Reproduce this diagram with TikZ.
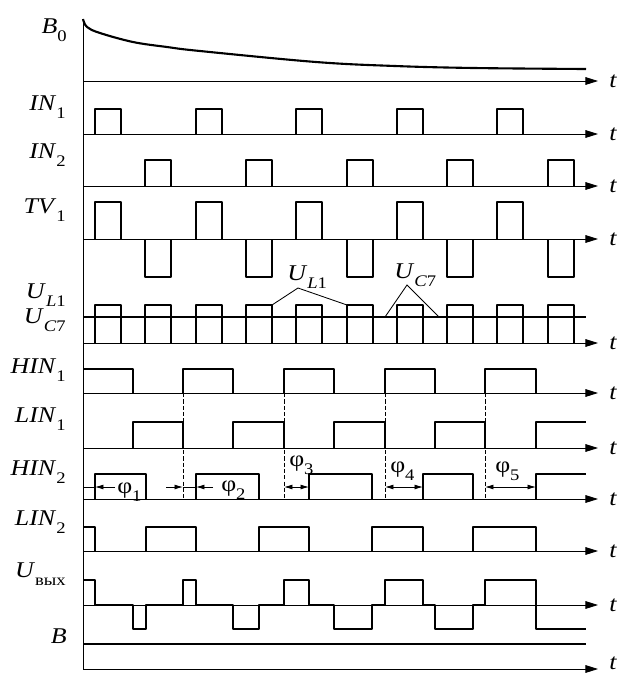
\documentclass[tikz,border=0pt]{standalone}
\usepackage{fontspec}
\setmainfont{Liberation Serif}[FakeStretch=1.15]
\usetikzlibrary{arrows.meta}
\tikzset{axisline/.style={line width=0.6pt, -{Triangle[length=9pt, width=5.5pt]}}}
\tikzset{signal/.style={line width=1.5pt, line join=round}}
\tikzset{level/.style={signal, line width=2pt}}
\tikzset{siglabel/.style={anchor=base east, inner sep=0pt, font=\fontsize{16}{18}\selectfont}}
\tikzset{tlabel/.style={anchor=base west, inner sep=0pt, font=\fontsize{16}{18}\selectfont\itshape}}
\tikzset{philabel/.style={anchor=base west, inner sep=0pt, font=\fontsize{16}{18}\selectfont}}
\tikzset{guide/.style={line width=0.5pt, dash pattern=on 3pt off 1.5pt}}
\tikzset{pointer/.style={line width=0.6pt}}
\tikzstyle{dimarrow} = [line width=0.6pt, -{Latex[length=6pt, width=3.5pt]}]
\tikzstyle{dimboth} = [line width=0.6pt, {Latex[length=6pt, width=3.5pt]}-{Latex[length=6pt, width=3.5pt]}]
\newcommand{\lsub}[1]{\raisebox{-6pt}{\fontsize{11.5}{13}\selectfont #1}}

\begin{document}
\begin{tikzpicture}[x=0.025cm, y=-0.025cm]
	\useasboundingbox (0,0) rectangle (620,673);
	% Axes
	\coordinate (top) at (83,19);
	\coordinate (bottom) at (83,669);
	\draw[line width=0.6pt] (top) -- (bottom);
	\foreach \name/\y/\ty in {b0/81/87, in1/134/140, in2/186/192, tv1/239/245, ul1/343/349, hin1/393/399, lin1/448/454, hin2/499/505, lin2/551/557, uout/605/611, b/669/669}{
		\coordinate (\name-o) at (83,\y);
		\coordinate (\name-e) at (598,\y);
		\draw[axisline] (\name-o) -- (\name-e);
		\node[tlabel] (t-\name) at (609,\ty) {t};
	}

	% Nodes
	\node[siglabel] (b0-lbl) at (67,33) {\textit{B}\lsub{0}};
	\node[siglabel] (in1-lbl) at (66,110) {\textit{IN}\lsub{1}};
	\node[siglabel] (in2-lbl) at (66,158) {\textit{IN}\lsub{2}};
	\node[siglabel] (tv1-lbl) at (66,213) {\textit{TV}\lsub{1}};
	\node[siglabel] (ul1-lbl) at (66,298) {\textit{U}\lsub{\textit{L}1}};
	\node[siglabel] (uc7-lbl) at (66,323) {\textit{U}\lsub{\textit{C}7}};
	\node[siglabel] (hin1-lbl) at (66,373) {\textit{HIN}\lsub{1}};
	\node[siglabel] (lin1-lbl) at (66,422) {\textit{LIN}\lsub{1}};
	\node[siglabel] (hin2-lbl) at (66,475) {\textit{HIN}\lsub{2}};
	\node[siglabel] (lin2-lbl) at (66,525) {\textit{LIN}\lsub{2}};
	\node[siglabel] (uout-lbl) at (66,577) {\textit{U}\lsub{вых}};
	\node[siglabel] (b-lbl) at (67,643) {\textit{B}};

	% Signals
	\draw[signal] plot[smooth, tension=0.6] coordinates {(top) (87,27) (100,33) (133,42) (167,47) (200,51) (316,62) (395,66) (474,68) (586,69)};
	\foreach \x in {95,196,296,397,497}{
		\draw[signal] (\x,134) |- (\x+26,109) -- (\x+26,134);
		\draw[signal] (\x,239) |- (\x+26,202) -- (\x+26,239);
		\draw[signal] (\x,343) |- (\x+26,305) -- (\x+26,343);
	}
	\foreach \x in {145,246,347,447,548}{
		\draw[signal] (\x,186) |- (\x+26,160) -- (\x+26,186);
		\draw[signal] (\x,239) |- (\x+26,277) -- (\x+26,239);
		\draw[signal] (\x,343) |- (\x+26,305) -- (\x+26,343);
	}
	\draw[level] (83,317) -- (586,317);

	\draw[signal] (83,369) -| (133,393);
	\foreach \r/\f in {183/233, 284/334, 385/435, 485/536}
		\draw[signal] (\r,393) |- (\f,369) -- (\f,393);
	\foreach \r/\f in {133/183, 233/284, 334/385, 435/485}
		\draw[signal] (\r,448) |- (\f,422) -- (\f,448);
	\draw[signal] (536,448) |- (586,422);
	\foreach \r/\f in {95/146, 196/259, 309/372, 423/473}
		\draw[signal] (\r,499) |- (\f,474) -- (\f,499);
	\draw[signal] (536,499) |- (586,474);
	\draw[signal] (83,527) -| (95,551);
	\foreach \r/\f in {146/196, 259/309, 372/423, 473/536}
		\draw[signal] (\r,551) |- (\f,527) -- (\f,551);
	\draw[signal] (83,580) -| (95,605) -| (133,629) -| (146,605) -| (183,580) -| (196,605) -| (233,629) -| (259,605) -| (284,580) -| (309,605) -| (334,629) -| (372,605) -| (385,580) -| (423,605) -| (435,629) -| (473,605) -| (485,580) -| (536,629) -- (586,629);
	\draw[level] (83,644) -- (586,644);

	% Phase marks
	\foreach \x in {183,284,385,485}
		\draw[guide] (\x,393) -- (\x,499);
	\draw[pointer] (83,487) -- (95,487);
	\draw[dimarrow] (115,487) -- (95,487);
	\draw[dimarrow] (166,487) -- (183,487);
	\draw[pointer] (183,487) -- (196,487);
	\draw[dimarrow] (213,487) -- (196,487);
	\draw[dimboth] (284,487) -- (309,487);
	\draw[dimboth] (385,487) -- (423,487);
	\draw[dimboth] (485,487) -- (536,487);
	\node[philabel] (phi1) at (117,493) {φ\lsub{1}};
	\node[philabel] (phi2) at (221,491) {φ\lsub{2}};
	\node[philabel] (phi3) at (289,466) {φ\lsub{3}};
	\node[philabel] (phi4) at (390,472) {φ\lsub{4}};
	\node[philabel] (phi5) at (495,472) {φ\lsub{5}};

	% Pointers
	\node[philabel] (ul1-note) at (287,280) {\textit{U}\lsub{\textit{L}1}};
	\coordinate (ul1-v) at (298,288);
	\draw[pointer] (272,305) -- (ul1-v) -- (347,305);
	\node[philabel] (uc7-note) at (394,278) {\textit{U}\lsub{\textit{C}7}};
	\coordinate (uc7-v) at (407,285);
	\draw[pointer] (385,317) -- (uc7-v) -- (439,317);
\end{tikzpicture}
\end{document}
